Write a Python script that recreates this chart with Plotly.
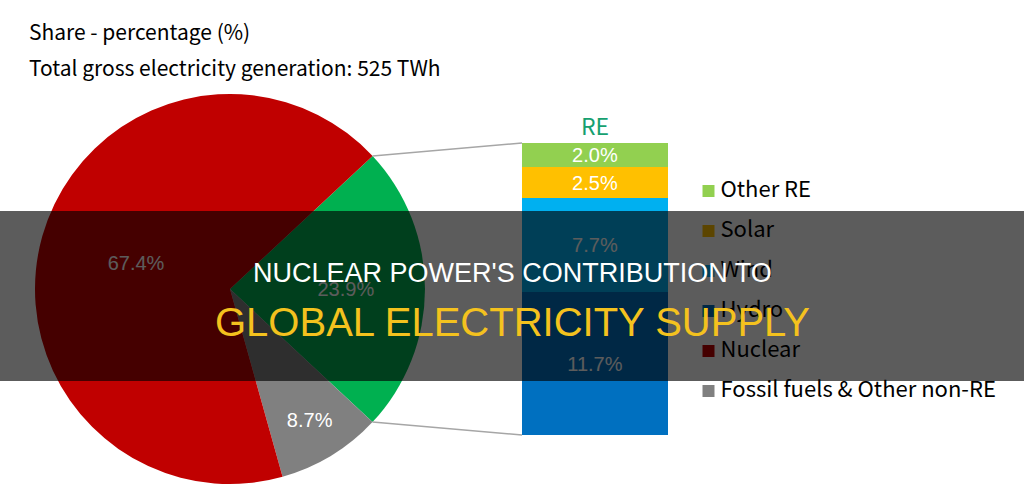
import math
import plotly.graph_objects as go

# ---------------- data ----------------
pie_labels = ["RE", "Fossil fuels & Other non-RE", "Nuclear"]
pie_values = [23.9, 8.7, 67.4]
pie_colors = ["#00B050", "#808080", "#C00000"]

re_labels = ["Hydro", "Wind", "Solar", "Other RE"]
re_values = [11.7, 7.7, 2.5, 2.0]
re_colors = ["#0070C0", "#00B0F0", "#FFC000", "#92D050"]

legend_labels = ["Other RE", "Solar", "Wind", "Hydro", "Nuclear", "Fossil fuels & Other non-RE"]
legend_colors = ["#92D050", "#FFC000", "#00B0F0", "#0070C0", "#C00000", "#808080"]

title_lines = ["Share - percentage (%)", "Total gross electricity generation: 525 TWh"]
bar_title = "RE"
banner_lines = ["NUCLEAR POWER'S CONTRIBUTION TO", "GLOBAL ELECTRICITY SUPPLY"]

# ---------------- layout constants ----------------
W, H = 1024, 500
PIE_ROT = 47
pie_dom_x = [35 / W, 425 / W]
pie_dom_y = [16 / H, 406 / H]
bar_dom_x = [522 / W, 668 / W]
bar_dom_y = [65 / H, 357 / H]

JP = "Noto Sans CJK JP, Noto Sans, sans-serif"
AR = "Liberation Sans, Arial, sans-serif"

fig = go.Figure()

fig.add_trace(go.Pie(
    labels=pie_labels, values=pie_values, sort=False, direction="clockwise",
    rotation=PIE_ROT, marker=dict(colors=pie_colors, line=dict(width=0)),
    texttemplate="%{value:.1f}%", textposition="inside",
    insidetextorientation="horizontal",
    textfont=dict(family=AR, size=20, color="white"),
    domain=dict(x=pie_dom_x, y=pie_dom_y), showlegend=False, hoverinfo="skip",
))

for lab, val, col in zip(re_labels, re_values, re_colors):
    fig.add_trace(go.Bar(
        x=[0], y=[val], name=lab, marker=dict(color=col, line=dict(width=0)),
        width=1, text=[f"{val:.1f}%"], textposition="inside",
        insidetextanchor="middle", constraintext="none",
        textfont=dict(family=AR, size=20, color="white"),
        xaxis="x", yaxis="y", showlegend=False, hoverinfo="skip",
    ))

# legend drawn as scatter traces so that it sits beneath the banner overlay
fig.add_trace(go.Scatter(
    x=[0] * len(legend_labels), y=list(range(len(legend_labels))),
    mode="markers",
    marker=dict(symbol="square", size=12, color=legend_colors, line=dict(width=0)),
    xaxis="x2", yaxis="y2", showlegend=False, hoverinfo="skip", cliponaxis=False,
))

leg_x0 = 0.68
leg_w = (1 - leg_x0) * W
off = (708.5 - leg_x0 * W) / leg_w
text_dx = 12 / leg_w

fig.add_trace(go.Scatter(
    x=[text_dx] * len(legend_labels), y=list(range(len(legend_labels))),
    mode="text", text=legend_labels, textposition="middle right",
    textfont=dict(family=JP, size=22, color="black"),
    xaxis="x2", yaxis="y2", showlegend=False, hoverinfo="skip", cliponaxis=False,
))

# connector lines from pie RE slice edges to the bar corners
cx = (pie_dom_x[0] + pie_dom_x[1]) / 2 * W
cy = (1 - (pie_dom_y[0] + pie_dom_y[1]) / 2) * H
r = min((pie_dom_x[1] - pie_dom_x[0]) * W, (pie_dom_y[1] - pie_dom_y[0]) * H) / 2
a0 = math.radians(PIE_ROT)
a1 = math.radians(PIE_ROT + 360 * pie_values[0] / sum(pie_values))
p0 = (cx + r * math.sin(a0), cy - r * math.cos(a0))
p1 = (cx + r * math.sin(a1), cy - r * math.cos(a1))

shapes = [
    dict(type="line", xref="paper", yref="paper", x0=p0[0] / W, y0=1 - p0[1] / H,
         x1=bar_dom_x[0], y1=bar_dom_y[1], line=dict(color="#A6A6A6", width=1.5)),
    dict(type="line", xref="paper", yref="paper", x0=p1[0] / W, y0=1 - p1[1] / H,
         x1=bar_dom_x[0], y1=bar_dom_y[0], line=dict(color="#A6A6A6", width=1.5)),
    dict(type="rect", xref="paper", yref="paper", x0=0, x1=1, y0=1 - 381 / H, y1=1 - 211 / H,
         fillcolor="rgba(0,0,0,0.64)", line=dict(width=0), layer="above"),
]

annotations = [
    dict(text=title_lines[0], x=27 / W, y=1 - 31 / H, xref="paper", yref="paper",
         xanchor="left", yanchor="middle", showarrow=False,
         font=dict(family=JP, size=21, color="black")),
    dict(text=title_lines[1], x=27 / W, y=1 - 67 / H, xref="paper", yref="paper",
         xanchor="left", yanchor="middle", showarrow=False,
         font=dict(family=JP, size=21, color="black")),
    dict(text=bar_title, x=(bar_dom_x[0] + bar_dom_x[1]) / 2, y=1 - 125 / H, xref="paper", yref="paper",
         xanchor="center", yanchor="middle", showarrow=False,
         font=dict(family=JP, size=23, color="#16A070")),
    dict(text=banner_lines[0], x=0.5, y=1 - 273 / H, xref="paper", yref="paper",
         xanchor="center", yanchor="middle", showarrow=False,
         font=dict(family=AR, size=27, color="white")),
    dict(text=banner_lines[1], x=0.5, y=1 - 322 / H, xref="paper", yref="paper",
         xanchor="center", yanchor="middle", showarrow=False,
         font=dict(family=AR, size=40, color="#F4C21E")),
]

fig.update_layout(
    width=W, height=H, margin=dict(l=0, r=0, t=0, b=0),
    paper_bgcolor="white", plot_bgcolor="rgba(0,0,0,0)",
    barmode="stack", bargap=0,
    xaxis=dict(domain=bar_dom_x, range=[-0.5, 0.5], visible=False, fixedrange=True),
    yaxis=dict(domain=bar_dom_y, range=[0, sum(re_values)], visible=False, fixedrange=True),
    xaxis2=dict(domain=[leg_x0, 1], range=[-off, 1 - off], visible=False, anchor="y2"),
    yaxis2=dict(domain=[89 / H, 329 / H], range=[len(legend_labels) - 0.5, -0.5],
                visible=False, anchor="x2"),
    shapes=shapes, annotations=annotations, showlegend=False,
)

fig.write_html("out.html")
